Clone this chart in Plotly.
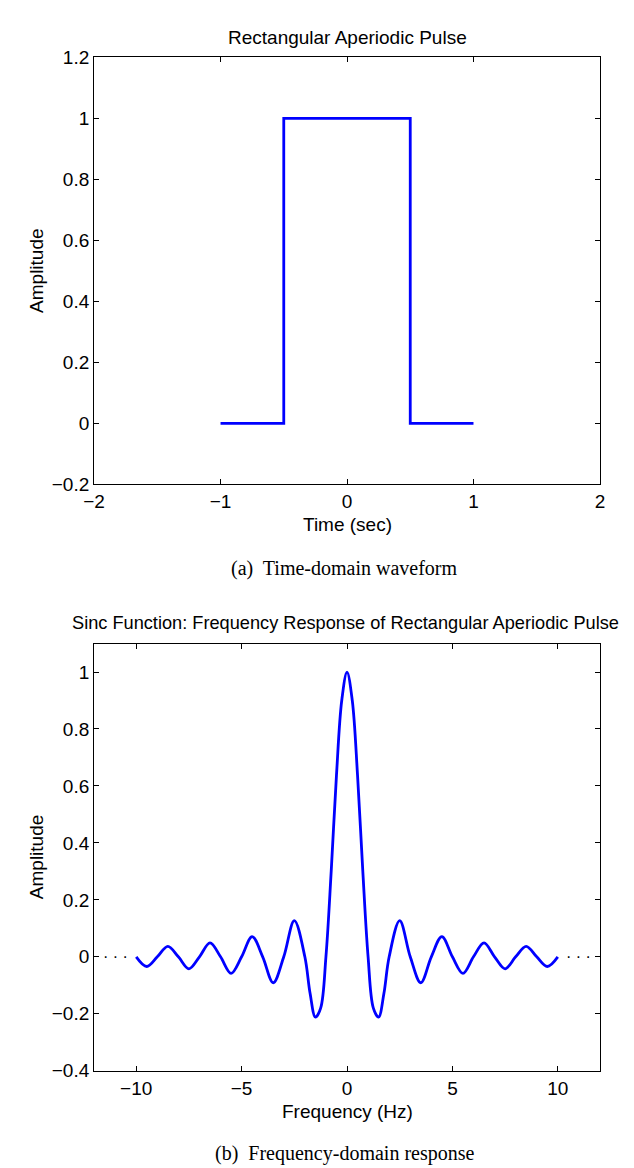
import plotly.graph_objects as go

# ---- data ----
pulse_t = [-1.0, -0.5, -0.5, 0.5, 0.5, 1.0]
pulse_amp = [0, 0, 1, 1, 0, 0]

freq = [-10, -9.5, -9, -8.5, -8, -7.5, -7, -6.5, -6, -5.5, -5, -4.5, -4, -3.5, -3, -2.5,
        -2, -1.75, -1.5, -1.25, -1, -0.75, -0.5, -0.25, 0, 0.25, 0.5, 0.75, 1, 1.25, 1.5, 1.75,
        2, 2.5, 3, 3.5, 4, 4.5, 5, 5.5, 6, 6.5, 7, 7.5, 8, 8.5, 9, 9.5, 10]
sinc_amp = [0, -0.034, 0, 0.037, 0, -0.042, 0, 0.049, 0, -0.058, 0, 0.071, 0, -0.091, 0, 0.127,
            0, -0.129, -0.212, -0.180, 0, 0.300, 0.637, 0.900, 1.0, 0.900, 0.637, 0.300, 0, -0.180, -0.212, -0.129,
            0, 0.127, 0, -0.091, 0, 0.071, 0, -0.058, 0, 0.049, 0, -0.042, 0, 0.037, 0, -0.034, 0]

top_xticks = [-2, -1, 0, 1, 2]
top_yticks = [-0.2, 0, 0.2, 0.4, 0.6, 0.8, 1, 1.2]
bot_xticks = [-10, -5, 0, 5, 10]
bot_yticks = [-0.4, -0.2, 0, 0.2, 0.4, 0.6, 0.8, 1]

W, H = 634, 1168
FONT = "Liberation Sans, Arial, sans-serif"
SERIF = "Liberation Serif, Times New Roman, serif"
BLUE = "#0000FF"
FS = 19

def py(pix):
    return 1 - pix / H

def px(pix):
    return pix / W

def fmt(v):
    return ("\u2212" if v < 0 else "") + ("%g" % abs(v))

fig = go.Figure()
fig.add_trace(go.Scatter(x=pulse_t, y=pulse_amp, mode="lines",
                         line=dict(color=BLUE, width=2.8), xaxis="x", yaxis="y", showlegend=False))
fig.add_trace(go.Scatter(x=freq, y=sinc_amp, mode="lines", line_shape="spline",
                         line=dict(color=BLUE, width=2.8), xaxis="x2", yaxis="y2", showlegend=False))

L, R = 77, 596
common = dict(showgrid=False, zeroline=False, showline=True, linecolor="black", linewidth=1,
              mirror="ticks", ticks="inside", ticklen=5, tickcolor="black",
              tickfont=dict(family=FONT, size=FS, color="black"))

fig.update_layout(
    width=W, height=H, margin=dict(l=0, r=0, t=0, b=0),
    paper_bgcolor="white", plot_bgcolor="white",
    xaxis=dict(domain=[px(L), px(R)], range=[-2, 2], tickvals=top_xticks,
               ticktext=[fmt(v) for v in top_xticks], anchor="y", **common),
    yaxis=dict(domain=[py(475), py(40)], range=[-0.2, 1.2], tickvals=top_yticks,
               ticktext=[fmt(v) for v in top_yticks], anchor="x", **common),
    xaxis2=dict(domain=[px(L), px(R)], range=[-12, 12], tickvals=bot_xticks,
                ticktext=[fmt(v) for v in bot_xticks], anchor="y2", **common),
    yaxis2=dict(domain=[py(1072), py(637)], range=[-0.4, 1.1], tickvals=bot_yticks,
                ticktext=[fmt(v) for v in bot_yticks], anchor="x2", **common),
)

def ann(text, x, y, size=FS, family=FONT, angle=0, xref="paper", yref="paper"):
    fig.add_annotation(text=text, x=x, y=y, xref=xref, yref=yref, showarrow=False,
                       font=dict(family=family, size=size, color="black"), textangle=angle,
                       xanchor="center", yanchor="middle")

cx = px((L + R) / 2)
ann("Rectangular Aperiodic Pulse", cx, py(20))
ann("Time (sec)", cx, py(516))
ann("Amplitude", px(18), py(257), angle=-90)
ann("(a)  Time-domain waveform", px(334), py(561), size=20, family=SERIF)

ann("Sinc Function: Frequency Response of Rectangular Aperiodic Pulse", px(335), py(616), size=18.2)
ann("Frequency (Hz)", cx, py(1114))
ann("Amplitude", px(18), py(854), angle=-90)
ann("(b)  Frequency-domain response", px(334), py(1156), size=20, family=SERIF)

# dots indicating continuation
fig.add_annotation(text="\u00b7 \u00b7 \u00b7", x=-11.0, y=0, xref="x2", yref="y2", showarrow=False,
                   font=dict(family=FONT, size=16, color="black"))
fig.add_annotation(text="\u00b7 \u00b7 \u00b7", x=11.0, y=0, xref="x2", yref="y2", showarrow=False,
                   font=dict(family=FONT, size=16, color="black"))

fig.write_html("out.html")
